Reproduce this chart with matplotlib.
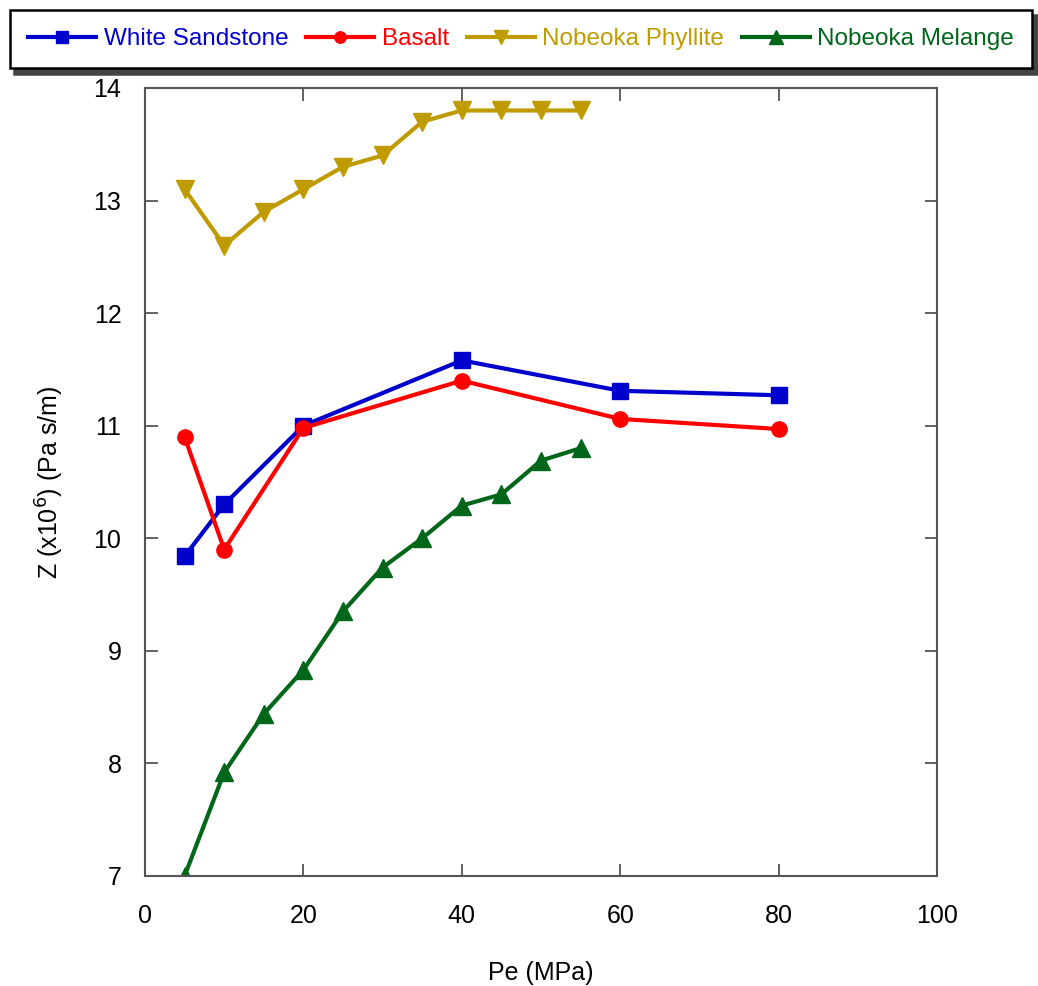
import matplotlib
matplotlib.use("Agg")
import matplotlib.pyplot as plt

plt.rcParams["font.family"] = ["Liberation Sans", "DejaVu Sans"]

# data
pe_ws = [5, 10, 20, 40, 60, 80]
z_ws = [9.84, 10.30, 11.0, 11.58, 11.31, 11.27]

pe_bas = [5, 10, 20, 40, 60, 80]
z_bas = [10.90, 9.90, 10.98, 11.40, 11.06, 10.97]

pe_phy = [5, 10, 15, 20, 25, 30, 35, 40, 45, 50, 55]
z_phy = [13.1, 12.6, 12.9, 13.1, 13.3, 13.4, 13.7, 13.8, 13.8, 13.8, 13.8]

pe_mel = [5, 10, 15, 20, 25, 30, 35, 40, 45, 50, 55]
z_mel = [7.0, 7.92, 8.44, 8.83, 9.35, 9.74, 10.0, 10.29, 10.39, 10.69, 10.8]

labels = ["White Sandstone", "Basalt", "Nobeoka Phyllite", "Nobeoka Melange"]
colors = ["#0000CC", "#FF0000", "#BF9B00", "#00661A"]

fig = plt.figure(figsize=(10.38, 9.86), dpi=100)
ax = fig.add_axes([0.1397, 0.1116, 0.763, 0.7992])

ax.plot(pe_ws, z_ws, color=colors[0], marker="s", markersize=11, lw=3, label=labels[0])
ax.plot(pe_bas, z_bas, color=colors[1], marker="o", markersize=11, lw=3, label=labels[1])
ax.plot(pe_phy, z_phy, color=colors[2], marker="v", markersize=13, lw=3, label=labels[2])
ax.plot(pe_mel, z_mel, color=colors[3], marker="^", markersize=13, lw=3, label=labels[3])

ax.set_xlim(0, 100)
ax.set_ylim(7, 14)
ax.set_xticks([0, 20, 40, 60, 80, 100])
ax.set_yticks([7, 8, 9, 10, 11, 12, 13, 14])

for s in ax.spines.values():
    s.set_color("#555555")
    s.set_linewidth(1.5)
ax.tick_params(axis="both", direction="in", length=9, width=1.3, color="#555555",
               top=True, right=True, labelsize=18)
ax.tick_params(axis="x", pad=20)
ax.tick_params(axis="y", pad=17)

ax.set_xlabel("Pe (MPa)", fontsize=18, labelpad=24)
ax.set_ylabel("Z (x10$^{6}$) (Pa s/m)", fontsize=18, labelpad=20)

leg = fig.legend(loc="upper left", bbox_to_anchor=(0.0096, 0.933, 0.985, 0.057),
                 mode="expand", ncol=4, fontsize=17.5, frameon=True, fancybox=False,
                 shadow={"ox": 3, "oy": -4, "color": "#444444", "alpha": 1},
                 edgecolor="black", handlelength=2.8, handletextpad=0.3,
                 columnspacing=0.8, borderaxespad=0, borderpad=0.75, markerscale=0.75)
leg.get_frame().set_linewidth(1.8)
for txt, c in zip(leg.get_texts(), colors):
    txt.set_color(c)

fig.savefig("out.png", dpi=100)
